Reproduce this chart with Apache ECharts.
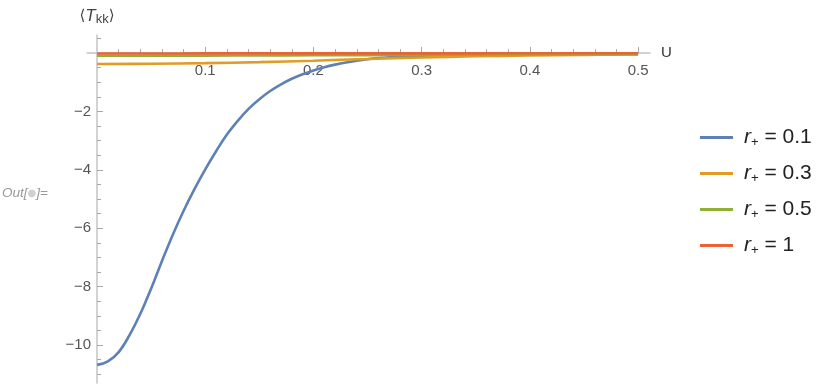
<!DOCTYPE html>
<html>
<head>
<meta charset="utf-8">
<script src="https://cdn.jsdelivr.net/npm/echarts@6/dist/echarts.min.js"></script>
<style>html,body{margin:0;padding:0;background:#fff}#c{width:830px;height:388px}</style>
</head>
<body>
<div id="c"></div>
<script>
// ---- data ----
var uBlue = [0,0.01,0.02,0.03,0.04,0.05,0.06,0.07,0.08,0.09,0.10,0.11,0.12,0.13,0.14,0.15,0.16,0.17,0.18,0.19,0.20,0.21,0.22,0.23,0.24,0.25,0.26,0.27,0.28,0.30,0.35,0.40,0.45,0.50];
var blue  = [-10.68,-10.56,-10.24,-9.66,-8.93,-8.06,-7.12,-6.22,-5.40,-4.66,-3.98,-3.36,-2.79,-2.32,-1.91,-1.58,-1.30,-1.07,-0.88,-0.725,-0.595,-0.485,-0.395,-0.32,-0.26,-0.21,-0.17,-0.14,-0.12,-0.095,-0.068,-0.052,-0.04,-0.032];
var uOther = [0,0.05,0.10,0.15,0.20,0.25,0.30,0.35,0.40,0.45,0.50];
var orange = [-0.375,-0.365,-0.345,-0.31,-0.26,-0.2,-0.15,-0.11,-0.08,-0.06,-0.045];
var green  = [-0.09,-0.088,-0.085,-0.08,-0.075,-0.068,-0.06,-0.053,-0.045,-0.04,-0.035];
var red    = [-0.012,-0.012,-0.011,-0.011,-0.010,-0.010,-0.009,-0.008,-0.007,-0.006,-0.005];
var seriesNames = ['r+ = 0.1','r+ = 0.3','r+ = 0.5','r+ = 1'];
var legendValues = ['0.1','0.3','0.5','1'];
var colors = ['#5E81B5','#E19C24','#8FB032','#EB6235'];
var xMajor = [0.1,0.2,0.3,0.4,0.5];
var xMinor = [0.02,0.04,0.06,0.08,0.12,0.14,0.16,0.18,0.22,0.24,0.26,0.28,0.32,0.34,0.36,0.38,0.42,0.44,0.46,0.48];
var yMajor = [-10,-8,-6,-4,-2];
var yMinor = [0.5,-0.5,-1,-1.5,-2.5,-3,-3.5,-4.5,-5,-5.5,-6.5,-7,-7.5,-8.5,-9,-9.5,-10.5,-11];

function pairs(xs, ys){ return xs.map(function(x,i){ return [x, ys[i]]; }); }
var seriesData = [pairs(uBlue, blue), pairs(uOther, orange), pairs(uOther, green), pairs(uOther, red)];

var FONT = 'Liberation Sans, Arial, sans-serif';
var axisColor = '#c4c4c4';
var tickColor = '#a8a8a8';
var XMIN = -0.0093, XMAX = 0.511, YMIN = -11.3, YMAX = 0.62;

var chart = echarts.init(document.getElementById('c'), null, {renderer:'canvas'});
chart.setOption({
  animation: false,
  backgroundColor: '#fff',
  grid: [
    {left: 87, right: 180, top: 35, bottom: 5, containLabel: false},
    // grid whose top-left corner sits at the origin, used for tick labels
    {left: 97, right: 180, top: 53, bottom: 5, containLabel: false}
  ],
  xAxis: [{
    gridIndex: 0, type: 'value', min: XMIN, max: XMAX, position: 'bottom',
    axisLine: {show: true, onZero: true, onZeroAxisIndex: 0, lineStyle: {color: axisColor, width: 1.5}},
    axisTick: {show: true, inside: true, length: 6, customValues: xMajor, lineStyle: {color: tickColor, width: 1}},
    axisLabel: {show: false},
    splitLine: {show: false},
    name: 'U', nameLocation: 'end', nameGap: 11,
    nameTextStyle: {color: '#333', fontSize: 15, fontFamily: FONT}
  },{
    gridIndex: 0, type: 'value', min: XMIN, max: XMAX, position: 'top',
    axisLine: {show: false, onZero: true, onZeroAxisIndex: 0},
    axisTick: {show: true, inside: false, length: 4, customValues: xMinor, lineStyle: {color: tickColor, width: 1}},
    axisLabel: {show: false},
    splitLine: {show: false}
  },{
    gridIndex: 1, type: 'value', min: 0, max: XMAX, position: 'top',
    axisLine: {show: false, onZero: false},
    axisTick: {show: false},
    axisLabel: {show: true, inside: true, customValues: xMajor, color: '#555', fontSize: 15, fontFamily: FONT, margin: 10},
    splitLine: {show: false}
  }],
  yAxis: [{
    gridIndex: 0, type: 'value', min: YMIN, max: YMAX, position: 'left',
    axisLine: {show: true, onZero: true, onZeroAxisIndex: 0, lineStyle: {color: axisColor, width: 1.5}},
    axisTick: {show: true, inside: true, length: 6, customValues: yMajor, lineStyle: {color: tickColor, width: 1}},
    axisLabel: {show: false},
    splitLine: {show: false},
    name: '{b|\u27E8}{t|T}{s|kk}{b|\u27E9}', nameLocation: 'end', nameGap: 9,
    nameTextStyle: {
      align: 'center',
      rich: {
        b: {fontSize: 15, color: '#444', fontFamily: 'DejaVu Sans, sans-serif'},
        t: {fontSize: 17, color: '#444', fontStyle: 'italic', fontFamily: FONT},
        s: {fontSize: 13, color: '#444', fontFamily: FONT, padding: [7,0,0,0]}
      }
    }
  },{
    gridIndex: 0, type: 'value', min: YMIN, max: YMAX, position: 'right',
    axisLine: {show: false, onZero: true, onZeroAxisIndex: 0},
    axisTick: {show: true, inside: false, length: 4, customValues: yMinor, lineStyle: {color: tickColor, width: 1}},
    axisLabel: {show: false},
    splitLine: {show: false}
  },{
    gridIndex: 1, type: 'value', min: YMIN, max: 0, position: 'left',
    axisLine: {show: false, onZero: false},
    axisTick: {show: false},
    axisLabel: {show: true, customValues: yMajor, color: '#555', fontSize: 15, fontFamily: FONT, margin: 6,
      formatter: function(v){ return String(v).replace('-', '\u2212'); }},
    splitLine: {show: false}
  }],
  legend: {
    orient: 'vertical', left: 700, top: 127, itemGap: 14.5, padding: 0,
    icon: 'rect', itemWidth: 33, itemHeight: 3,
    data: seriesNames,
    formatter: function(name){
      var i = seriesNames.indexOf(name);
      return '{i|r}{s|+}{t| = ' + legendValues[i] + '}';
    },
    textStyle: {
      padding: [0,0,0,6], lineHeight: 21,
      rich: {
        i: {fontSize: 21, fontStyle: 'italic', color: '#222', fontFamily: FONT},
        s: {fontSize: 13, color: '#222', fontFamily: FONT, padding: [9,0,0,0]},
        t: {fontSize: 21, color: '#222', fontFamily: FONT}
      }
    }
  },
  graphic: [{
    type: 'text', left: 2, top: 186,
    style: {
      text: '{a|Out[}{d|\u25CF}{a|]=}',
      rich: {
        a: {fontSize: 13.5, fontStyle: 'italic', fill: '#999', fontFamily: FONT},
        d: {fontSize: 10, fill: '#d0d0d0', fontFamily: 'DejaVu Sans, sans-serif'}
      }
    }
  }],
  series: seriesData.map(function(d, i){
    return {
      name: seriesNames[i], type: 'line', xAxisIndex: 0, yAxisIndex: 0,
      data: d, symbol: 'none', smooth: 0.4, z: 2 + i,
      lineStyle: {color: colors[i], width: 2.6},
      itemStyle: {color: colors[i]}
    };
  })
});
</script>
</body>
</html>
